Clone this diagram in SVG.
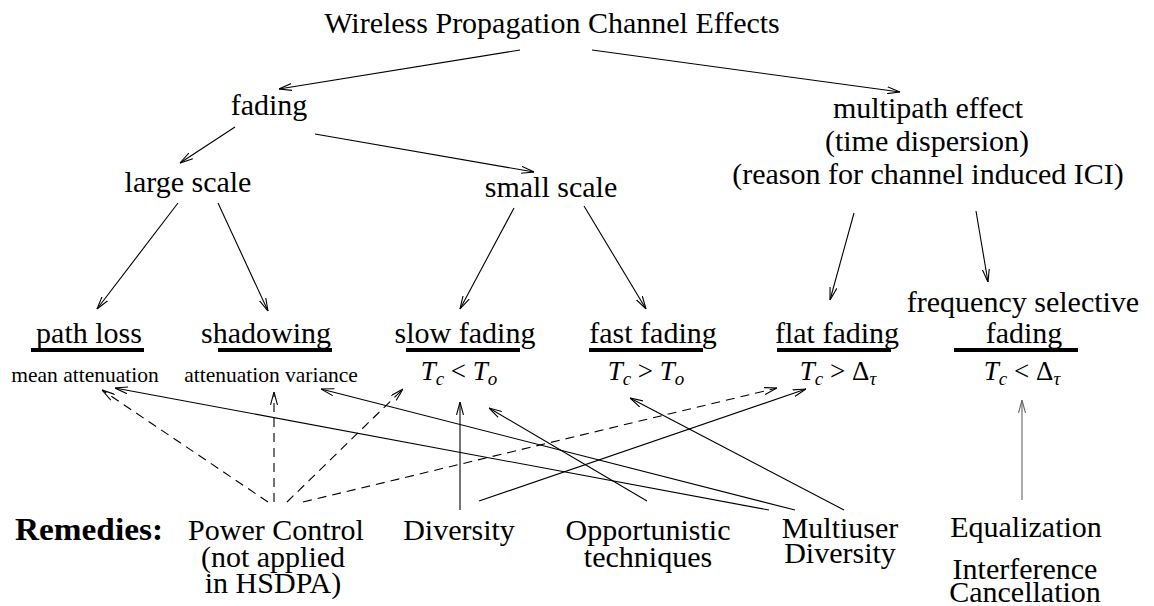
<svg xmlns="http://www.w3.org/2000/svg" width="1154" height="606" viewBox="0 0 1154 606">
<style>
text{font-family:"Liberation Serif","Times New Roman",serif;fill:#000;}
.t{font-size:30px;text-anchor:middle;}
.s{font-size:21.5px;text-anchor:middle;}
.m{font-size:27px;text-anchor:middle;}
.i{font-style:italic;}
.sub{font-size:19px;font-style:italic;}
.b{font-size:31px;font-weight:bold;}
.ul{stroke:#000;stroke-width:4;}
.c{stroke:#000;stroke-width:1.1;fill:none;marker-end:url(#ah);}
.d{stroke-dasharray:9 6;}
.g{stroke:#666;marker-end:url(#ahg);}
</style>
<defs>
<marker id="ah" viewBox="0 0 13 8" refX="13" refY="4" markerWidth="13" markerHeight="8" markerUnits="userSpaceOnUse" orient="auto"><path d="M0,0.5 L13,4 L0,7.5" fill="none" stroke="#000" stroke-width="1.1"/></marker>
<marker id="ahg" viewBox="0 0 13 8" refX="13" refY="4" markerWidth="13" markerHeight="8" markerUnits="userSpaceOnUse" orient="auto"><path d="M0,0.5 L13,4 L0,7.5" fill="none" stroke="#666" stroke-width="1.1"/></marker>
</defs>
<rect width="1154" height="606" fill="#fff"/>
<g id="title"><text class="t" x="552" y="33">Wireless Propagation Channel Effects</text></g>
<g id="fading"><text class="t" x="269" y="115">fading</text></g>
<g id="multipath"><text class="t" x="928" y="118">multipath effect</text><text class="t" x="927" y="151">(time dispersion)</text><text class="t" x="928" y="184">(reason for channel induced ICI)</text></g>
<g id="large-scale"><text class="t" x="188" y="192">large scale</text></g>
<g id="small-scale"><text class="t" x="551" y="197">small scale</text></g>
<g id="path-loss"><text class="t" x="89" y="343">path loss</text><line class="ul" x1="31" y1="350" x2="144" y2="350"/><text class="s" x="85" y="382">mean attenuation</text></g>
<g id="shadowing"><text class="t" x="266" y="343">shadowing</text><line class="ul" x1="218" y1="350" x2="332" y2="350"/><text class="s" x="271" y="382">attenuation variance</text></g>
<g id="slow-fading"><text class="t" x="465" y="343">slow fading</text><line class="ul" x1="406" y1="350" x2="520" y2="350"/><text class="m" x="459" y="380"><tspan class="i">T</tspan><tspan class="sub" dy="5">c</tspan><tspan dy="-5"> &lt; </tspan><tspan class="i">T</tspan><tspan class="sub" dy="5">o</tspan></text></g>
<g id="fast-fading"><text class="t" x="653" y="343">fast fading</text><line class="ul" x1="589" y1="350" x2="703" y2="350"/><text class="m" x="646" y="380"><tspan class="i">T</tspan><tspan class="sub" dy="5">c</tspan><tspan dy="-5"> &gt; </tspan><tspan class="i">T</tspan><tspan class="sub" dy="5">o</tspan></text></g>
<g id="flat-fading"><text class="t" x="837" y="343">flat fading</text><line class="ul" x1="777" y1="350" x2="891" y2="350"/><text class="m" x="838" y="380"><tspan class="i">T</tspan><tspan class="sub" dy="5">c</tspan><tspan dy="-5"> &gt; Δ</tspan><tspan class="sub" dy="5">τ</tspan></text></g>
<g id="freq-selective"><text class="t" x="1023" y="312">frequency selective</text><text class="t" x="1024" y="343">fading</text><line class="ul" x1="954" y1="350" x2="1078" y2="350"/><text class="m" x="1022" y="380"><tspan class="i">T</tspan><tspan class="sub" dy="5">c</tspan><tspan dy="-5"> &lt; Δ</tspan><tspan class="sub" dy="5">τ</tspan></text></g>
<g id="remedies"><text class="b" x="15" y="540" textLength="148" lengthAdjust="spacingAndGlyphs">Remedies:</text></g>
<g id="power-control"><text class="t" x="276" y="540">Power Control</text><text class="t" x="273" y="567">(not applied</text><text class="t" x="273" y="593">in HSDPA)</text></g>
<g id="diversity"><text class="t" x="459" y="540">Diversity</text></g>
<g id="opportunistic"><text class="t" x="648" y="540">Opportunistic</text><text class="t" x="648" y="567">techniques</text></g>
<g id="multiuser"><text class="t" x="840" y="538">Multiuser</text><text class="t" x="840" y="563">Diversity</text></g>
<g id="equalization"><text class="t" x="1026" y="537">Equalization</text><text class="t" x="1025" y="579">Interference</text><text class="t" x="1025" y="602">Cancellation</text></g>
<g id="connectors">
<line class="c" x1="520" y1="50" x2="279" y2="89"/>
<line class="c" x1="592" y1="50" x2="900" y2="92"/>
<line class="c" x1="235" y1="127" x2="180" y2="163"/>
<line class="c" x1="315" y1="134" x2="534" y2="172"/>
<line class="c" x1="178" y1="203" x2="97" y2="309"/>
<line class="c" x1="218" y1="203" x2="268" y2="311"/>
<line class="c" x1="514" y1="208" x2="460" y2="309"/>
<line class="c" x1="584" y1="206" x2="646" y2="309"/>
<line class="c" x1="854" y1="213" x2="830" y2="300"/>
<line class="c" x1="976" y1="211" x2="988" y2="282"/>
<line class="c d" x1="268" y1="502" x2="102" y2="390"/>
<line class="c d" x1="274" y1="502" x2="274" y2="392"/>
<line class="c d" x1="287" y1="502" x2="403" y2="389"/>
<line class="c d" x1="303" y1="502" x2="777" y2="388"/>
<line class="c" x1="460" y1="510" x2="460" y2="402"/>
<line class="c" x1="479" y1="501" x2="806" y2="389"/>
<line class="c" x1="647" y1="501" x2="489" y2="408"/>
<line class="c" x1="769" y1="510" x2="115" y2="388"/>
<line class="c" x1="795" y1="510" x2="321" y2="389"/>
<line class="c" x1="844" y1="510" x2="630" y2="398"/>
<line class="c g" x1="1022" y1="500" x2="1022" y2="400"/>
</g>
</svg>
